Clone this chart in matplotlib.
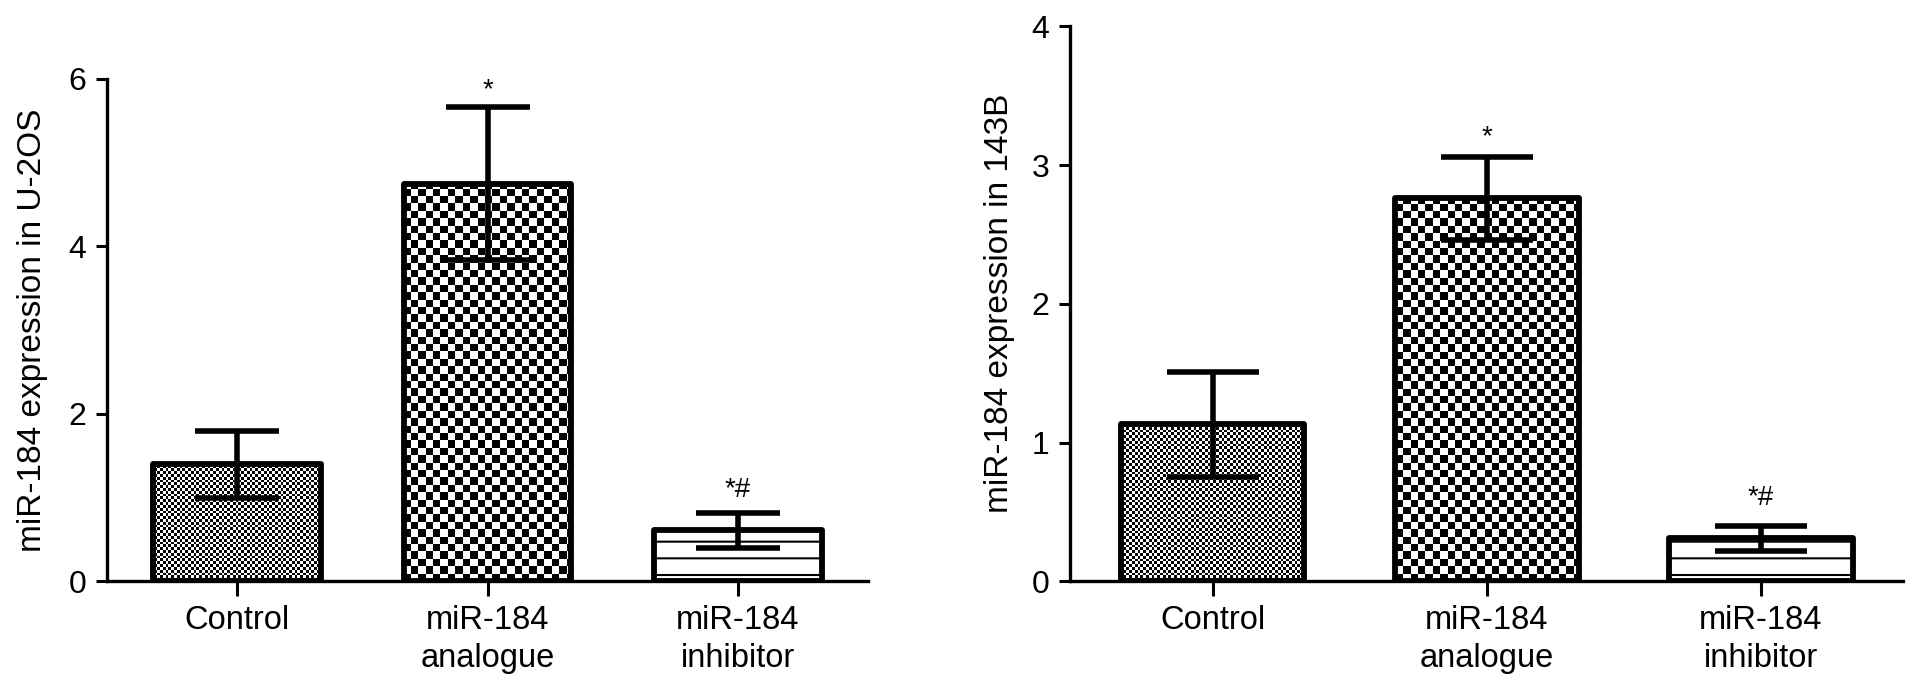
import matplotlib
matplotlib.use('Agg')
import matplotlib.pyplot as plt
import numpy as np

plt.rcParams['font.family'] = ['Liberation Sans', 'DejaVu Sans']
plt.rcParams['hatch.linewidth'] = 1.5

groups = ['Control', 'miR-184\nanalogue', 'miR-184\ninhibitor']

# U-2OS panel
u2os_mean = [1.40, 4.75, 0.61]
u2os_err = [0.40, 0.91, 0.21]
# 143B panel
b143_mean = [1.13, 2.76, 0.31]
b143_err = [0.38, 0.30, 0.09]

marks = ['', '*', '*#']


def checker(ax, bar, cell):
    # checkerboard texture clipped to a bar
    bb = ax.get_window_extent()
    x0, x1 = ax.get_xlim()
    y0, y1 = ax.get_ylim()
    nx = int(np.ceil(bb.width / cell)) + 1
    ny = int(np.ceil(bb.height / cell)) + 1
    dx = (x1 - x0) / bb.width * cell
    dy = (y1 - y0) / bb.height * cell
    img = np.indices((ny, nx)).sum(axis=0) % 2
    im = ax.imshow(img, cmap='gray', origin='lower', aspect='auto',
                   interpolation='nearest', zorder=1,
                   extent=(x0, x0 + nx * dx, y0, y0 + ny * dy))
    im.set_clip_path(bar)
    ax.set_xlim(x0, x1)
    ax.set_ylim(y0, y1)


def panel(ax, means, errs, ymax, ystep, ylabel, capsize, mark_off, labelpad):
    x = np.arange(len(groups))
    ax.set_xlim(-0.52, 2.52)
    ax.set_ylim(0, ymax)
    bars = ax.bar(x, means, width=0.67, facecolor='none', edgecolor='black',
                  linewidth=4.2, zorder=3, joinstyle='round')
    checker(ax, bars[0], 2.8)
    checker(ax, bars[1], 7.4)
    bars[2].set_facecolor('white')
    bars[2].set_hatch('-')
    ax.errorbar(x, means, yerr=errs, fmt='none', ecolor='black',
                elinewidth=4, capsize=capsize, capthick=4, zorder=4)
    for i in range(len(groups)):
        if marks[i]:
            off = mark_off if len(marks[i]) > 1 else mark_off - 0.06
            ax.text(x[i], means[i] + errs[i] + off, marks[i],
                    ha='center', va='center', fontsize=20)
    ax.set_xticks(x)
    ax.set_xticklabels(groups, fontsize=23.5, linespacing=1.3)
    ax.set_yticks(np.arange(0, ymax + 0.1, ystep))
    ax.tick_params(axis='y', labelsize=23, length=8, width=2.2, pad=7)
    ax.tick_params(axis='x', length=11, width=2.2, pad=6)
    ax.set_ylabel(ylabel, fontsize=24, labelpad=labelpad)
    ax.spines['top'].set_visible(False)
    ax.spines['right'].set_visible(False)
    ax.spines['left'].set_linewidth(2.4)
    ax.spines['bottom'].set_linewidth(2.4)


fig = plt.figure(figsize=(19.13, 6.92), dpi=100)
ax1 = fig.add_axes([0.056, 0.160, 0.3977, 0.726])
ax2 = fig.add_axes([0.5593, 0.160, 0.4357, 0.802])

panel(ax1, u2os_mean, u2os_err, 6, 2, 'miR-184 expression in U-2OS', 30, 0.27, 15)
panel(ax2, b143_mean, b143_err, 4, 1, 'miR-184 expression in 143B', 33, 0.2, 12)

fig.savefig('out.png', dpi=100)
